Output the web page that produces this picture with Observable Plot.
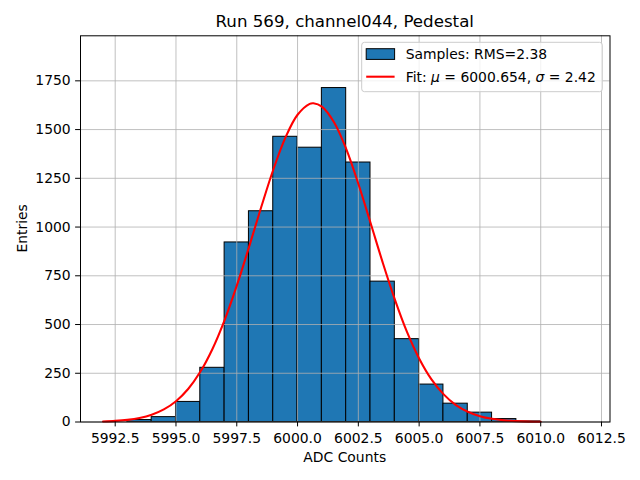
<!DOCTYPE html>
<html>
<head>
<meta charset="utf-8">
<script src="https://cdn.jsdelivr.net/npm/d3@7"></script>
<script src="https://cdn.jsdelivr.net/npm/@observablehq/plot@0.6"></script>
<style>
  html, body { margin: 0; padding: 0; background: white; }
  svg { display: block; }
</style>
</head>
<body>
<div id="chart"></div>
<script>
// Histogram bins (left edges, width 1 ADC count) and entries
const binLeft = [5993, 5994, 5995, 5996, 5997, 5998, 5999, 6000, 6001, 6002, 6003, 6004, 6005, 6006, 6007, 6008, 6009];
const binWidth = 1;
const counts  = [10, 25, 103, 278, 921, 1081, 1463, 1407, 1713, 1331, 720, 425, 192, 94, 48, 15, 3];

// Fit curve
const fitX = [5992, 5992.5, 5993, 5993.5, 5994, 5994.5, 5995, 5995.5, 5996, 5996.5, 5997, 5997.5, 5998, 5998.5, 5999, 5999.5, 6000, 6000.5, 6000.654, 6001, 6001.5, 6002, 6002.5, 6003, 6003.5, 6004, 6004.5, 6005, 6005.5, 6006, 6006.5, 6007, 6007.5, 6008, 6008.5, 6009, 6009.5, 6010];
const fitY = [2.7, 5.6, 11, 20.7, 37.3, 64.5, 106.7, 169.2, 257.4, 374.8, 522.9, 699.3, 896, 1100, 1294, 1459, 1576, 1632, 1635, 1618, 1538, 1401, 1222, 1022, 819, 629, 462, 326, 220, 143, 88, 52.5, 29.9, 16.3, 8.5, 4.3, 2.1, 0.9];

const xTicks = [5992.5, 5995.0, 5997.5, 6000.0, 6002.5, 6005.0, 6007.5, 6010.0, 6012.5];
const yTicks = [0, 250, 500, 750, 1000, 1250, 1500, 1750];

const titleText = "Run 569, channel044, Pedestal";
const xLabel = "ADC Counts";
const yLabel = "Entries";
const legendSamples = "Samples: RMS=2.38";

const bars = binLeft.map((x, i) => ({x1: x, x2: x + binWidth, y: counts[i]}));
const fit = fitX.map((x, i) => ({x, y: fitY[i]}));

const W = 640, H = 480;
const mL = 80, mR = 30.5, mT = 35.3, mB = 58.5;
const FONT = "DejaVu Sans";
const FS = 13.9;

const plot = Plot.plot({
  width: W,
  height: H,
  marginLeft: mL,
  marginRight: mR,
  marginTop: mT,
  marginBottom: mB,
  style: {fontFamily: FONT, fontSize: FS + "px", color: "black", background: "white"},
  x: {type: "linear", domain: [5991.073, 6012.85]},
  y: {type: "linear", domain: [0, 1981]},
  marks: [
    Plot.rectY(bars, {x1: "x1", x2: "x2", y1: 0, y2: "y", fill: "#1f77b4", stroke: "black", strokeWidth: 1, inset: 0}),
    Plot.ruleX(xTicks, {stroke: "#b0b0b0", strokeWidth: 0.8}),
    Plot.ruleY(yTicks, {stroke: "#b0b0b0", strokeWidth: 0.8}),
    Plot.line(fit, {x: "x", y: "y", stroke: "red", strokeWidth: 2.08, curve: "catmull-rom"}),
    Plot.axisX(xTicks, {tickSize: 4.9, tickPadding: 6.5, tickFormat: d3.format(".1f"), label: null, fontSize: FS, stroke: "black"}),
    Plot.axisY(yTicks, {tickSize: 4.9, tickPadding: 4.9, tickFormat: d3.format("d"), label: null, fontSize: FS, stroke: "black"}),
    Plot.frame({stroke: "black", strokeWidth: 1})
  ]
});

document.getElementById("chart").appendChild(plot);

const svg = d3.select(plot);
const cx = mL + (W - mL - mR) / 2;

// Title
svg.append("text")
  .attr("x", cx).attr("y", 27)
  .attr("text-anchor", "middle")
  .style("font-family", FONT).style("font-size", "16.67px")
  .attr("fill", "black")
  .text(titleText);

// X label
svg.append("text")
  .attr("x", cx).attr("y", 461.7)
  .attr("text-anchor", "middle")
  .style("font-family", FONT).style("font-size", FS + "px")
  .attr("fill", "black")
  .text(xLabel);

// Y label
svg.append("text")
  .attr("transform", `translate(26.5, ${(mT + (H - mB)) / 2}) rotate(-90)`)
  .attr("text-anchor", "middle")
  .style("font-family", FONT).style("font-size", FS + "px")
  .attr("fill", "black")
  .text(yLabel);

// Legend
const lg = svg.append("g").attr("text-anchor", "start");
lg.append("rect")
  .attr("x", 361.7).attr("y", 42.3).attr("width", 240.6).attr("height", 49.4)
  .attr("rx", 2.8).attr("ry", 2.8)
  .attr("fill", "white").attr("fill-opacity", 0.8)
  .attr("stroke", "#cccccc").attr("stroke-width", 1);
lg.append("rect")
  .attr("x", 366.2).attr("y", 48.7).attr("width", 28.4).attr("height", 10.7)
  .attr("fill", "#1f77b4").attr("stroke", "black").attr("stroke-width", 1);
lg.append("text")
  .attr("x", 405.7).attr("y", 59.4)
  .attr("text-anchor", "start")
  .style("font-family", FONT).style("font-size", FS + "px")
  .attr("fill", "black")
  .text(legendSamples);
lg.append("line")
  .attr("x1", 366.2).attr("x2", 394.6).attr("y1", 76.7).attr("y2", 76.7)
  .attr("stroke", "red").attr("stroke-width", 2.08);
const t2 = lg.append("text")
  .attr("x", 405.7).attr("y", 81.6)
  .attr("text-anchor", "start")
  .style("font-family", FONT).style("font-size", FS + "px")
  .attr("fill", "black");
t2.append("tspan").text("Fit: ");
t2.append("tspan").style("font-style", "italic").text("μ");
t2.append("tspan").text(" = 6000.654, ");
t2.append("tspan").style("font-style", "italic").text("σ");
t2.append("tspan").text(" = 2.42");
</script>
</body>
</html>
